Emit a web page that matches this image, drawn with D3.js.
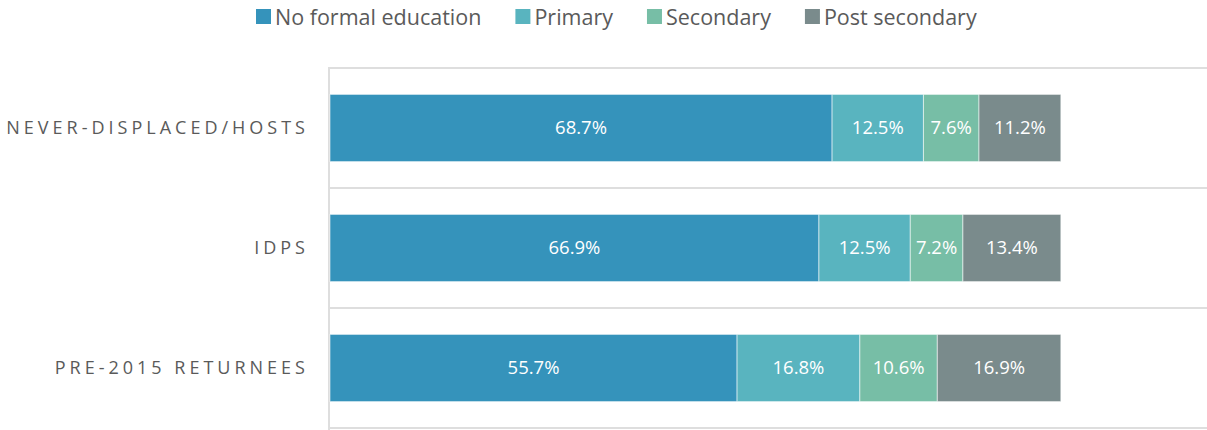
<!DOCTYPE html>
<html>
<head>
<meta charset="utf-8">
<script src="https://d3js.org/d3.v7.min.js"></script>
<style>
  body { margin: 0; background: #fff; }
  svg { display: block; font-family: "Open Sans", sans-serif; }
</style>
</head>
<body>
<svg id="chart" width="1207" height="430"></svg>
<script>
// --- DATA ---
const groups = ["NEVER-DISPLACED/HOSTS", "IDPS", "PRE-2015 RETURNEES"];
const levels = ["No formal education", "Primary", "Secondary", "Post secondary"];
const noFormal = [68.7, 66.9, 55.7];
const primary = [12.5, 12.5, 16.8];
const secondary = [7.6, 7.2, 10.6];
const postSecondary = [11.2, 13.4, 16.9];
const colors = ["#3593bb", "#59b4bf", "#77bea6", "#7a8b8c"];

const series = [noFormal, primary, secondary, postSecondary];
const rows = groups.map((g, i) => {
  const r = { group: g };
  levels.forEach((l, j) => r[l] = series[j][i]);
  return r;
});

const svg = d3.select("#chart");

// logical plot box
const plotLeft = 330, plotRight = 1207, plotTop = 68, plotBottom = 428;

const x = d3.scaleLinear().domain([0, 120]).range([plotLeft, plotRight]);
const y = d3.scaleBand().domain(groups).range([plotTop, plotBottom]).padding(0);
const barH = y.bandwidth() * 0.56;

const stack = d3.stack().keys(levels)(rows);

// gridlines at band edges
const edges = groups.map(g => y(g)).concat([plotBottom]);
svg.append("g").selectAll("line")
  .data(edges)
  .enter().append("line")
  .attr("x1", plotLeft - 1).attr("x2", plotRight)
  .attr("y1", d => d).attr("y2", d => d)
  .attr("stroke", "#dedede")
  .attr("stroke-width", 2);

svg.append("line")
  .attr("x1", plotLeft - 1).attr("x2", plotLeft - 1)
  .attr("y1", plotTop - 1).attr("y2", 430)
  .attr("stroke", "#dedede")
  .attr("stroke-width", 2);

// bars
const layers = svg.append("g").selectAll("g")
  .data(stack)
  .enter().append("g")
  .attr("fill", (d, i) => colors[i]);

layers.selectAll("rect")
  .data(d => d.map(p => ({ p, key: d.key })))
  .enter().append("rect")
  .attr("x", d => x(d.p[0]))
  .attr("width", d => x(d.p[1]) - x(d.p[0]))
  .attr("y", d => y(d.p.data.group) + (y.bandwidth() - barH) / 2)
  .attr("height", barH)
  .attr("stroke", "rgba(255,255,255,0.55)")
  .attr("stroke-width", 1);

// value labels
layers.selectAll("text")
  .data(d => d.map(p => ({ p, key: d.key })))
  .enter().append("text")
  .attr("x", d => (x(d.p[0]) + x(d.p[1])) / 2)
  .attr("y", d => y(d.p.data.group) + y.bandwidth() / 2)
  .attr("dy", "0.35em")
  .attr("text-anchor", "middle")
  .attr("fill", "#fff")
  .attr("font-size", 18.5)
  .text(d => d.p.data[d.key].toFixed(1) + "%");

// category labels
const ls = 4;
svg.append("g").selectAll("text")
  .data(groups)
  .enter().append("text")
  .attr("x", 305 + ls)
  .attr("y", d => y(d) + y.bandwidth() / 2)
  .attr("dy", "0.35em")
  .attr("text-anchor", "end")
  .attr("fill", "#5a5a5a")
  .attr("font-size", 18)
  .attr("letter-spacing", ls)
  .text(d => d);

// legend
const legend = svg.append("g");
let lx = 256;
levels.forEach((l, i) => {
  const item = legend.append("g").attr("transform", `translate(${lx},0)`);
  item.append("rect")
    .attr("x", 0).attr("y", 9)
    .attr("width", 15).attr("height", 15)
    .attr("fill", colors[i]);
  const t = item.append("text")
    .attr("x", 19).attr("y", 17)
    .attr("dy", "0.35em")
    .attr("fill", "#5a5a5a")
    .attr("font-size", 21.5)
    .text(l);
  lx += 19 + t.node().getComputedTextLength() + 34;
});
</script>
</body>
</html>
